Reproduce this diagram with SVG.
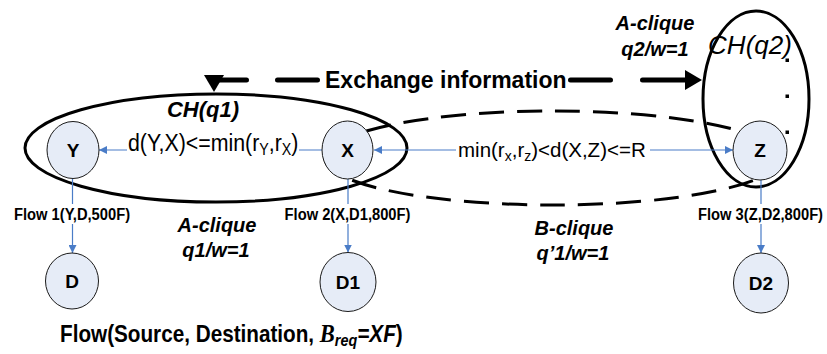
<svg xmlns="http://www.w3.org/2000/svg" width="827" height="354" viewBox="0 0 827 354">
  <style>
    text { font-family: "Liberation Sans", Arial, sans-serif; fill: #000; }
    .node ellipse { fill: #e6ecf7; stroke: #1a1a1a; stroke-width: 1; }
    .node text { font-size: 19px; font-weight: bold; text-anchor: middle; }
    .clique { fill: none; stroke: #000; stroke-width: 3; }
    .bclique { fill: none; stroke: #000; stroke-width: 3; stroke-dasharray: 25 13; }
    .link { fill: none; stroke: #4a7cc7; stroke-width: 1.2; }
    .exch { fill: none; stroke: #000; stroke-width: 5; stroke-linecap: round; }
    .flow { font-size: 16px; font-weight: bold; text-anchor: middle; }
    .cl { font-size: 20px; font-weight: bold; font-style: italic; text-anchor: middle; }
    .dot { fill: #000; }
  </style>
  <defs>
    <marker id="blueArrow" markerUnits="userSpaceOnUse" viewBox="0 0 10 10" refX="10" refY="5" markerWidth="8" markerHeight="8" orient="auto-start-reverse">
      <path d="M0,0 L10,5 L0,10 z" fill="#4a7cc7"/>
    </marker>
    <marker id="bigArrow" markerUnits="userSpaceOnUse" viewBox="0 0 17 20" refX="9" refY="10" markerWidth="17" markerHeight="20" orient="auto-start-reverse">
      <path d="M0,0 L17,10 L0,20 z" fill="#000"/>
    </marker>
  </defs>

  <!-- clique outlines -->
  <g id="cliques">
    <ellipse id="clique-q1" class="clique" cx="216" cy="148" rx="191" ry="54"/>
    <ellipse id="clique-q1b" class="bclique" cx="553" cy="158" rx="228" ry="47"/>
    <ellipse id="clique-q2" class="clique" cx="756" cy="99" rx="53" ry="88"/>
    <rect class="dot" x="785.5" y="58.5" width="3.5" height="3.5"/>
    <rect class="dot" x="785.5" y="94.5" width="3.5" height="3.5"/>
    <rect class="dot" x="785.5" y="130.5" width="3.5" height="3.5"/>
  </g>

  <!-- connectors -->
  <g id="connectors">
    <path class="exch" d="M214,84 V80 H246.5 M277.5,80 H317.5 M570.5,80 H610.5 M642.5,80 H694" marker-start="url(#bigArrow)" marker-end="url(#bigArrow)"/>
    <path class="link" d="M322,150 H299 M127,150 H99" marker-end="url(#blueArrow)"/>
    <path class="link" d="M374,150 H456 M650,150 H733" marker-start="url(#blueArrow)" marker-end="url(#blueArrow)"/>
    <path class="link" d="M72.5,179 V204 M72.5,224 V253" marker-end="url(#blueArrow)"/>
    <path class="link" d="M348,179 V204 M348,224 V252.5" marker-end="url(#blueArrow)"/>
    <path class="link" d="M761,180 V204 M761,224 V253" marker-end="url(#blueArrow)"/>
  </g>

  <!-- connector labels -->
  <g id="labels">
    <text x="325" y="88" font-size="23" font-weight="bold">Exchange information</text>
    <text transform="translate(128,151) scale(0.89,1)" font-size="24">d(Y,X)&lt;=min(r<tspan font-size="16" dy="4">Y</tspan><tspan dy="-4">,r</tspan><tspan font-size="16" dy="4">X</tspan><tspan dy="-4">)</tspan></text>
    <text x="458" y="157" font-size="20.5">min(r<tspan font-size="14" dy="4">x</tspan><tspan dy="-4">,r</tspan><tspan font-size="14" dy="4">z</tspan><tspan dy="-4">)&lt;d(X,Z)&lt;=R</tspan></text>
    <text class="flow" transform="translate(72,220) scale(0.92,1)">Flow 1(Y,D,500F)</text>
    <text class="flow" transform="translate(347.5,220) scale(0.92,1)">Flow 2(X,D1,800F)</text>
    <text class="flow" transform="translate(760.5,220) scale(0.92,1)">Flow 3(Z,D2,800F)</text>
    <text x="203" y="117" font-size="22" font-weight="bold" font-style="italic" text-anchor="middle">CH(q1)</text>
    <text x="750" y="54" font-size="26" font-style="italic" text-anchor="middle">CH(q2)</text>
    <text class="cl" x="217" y="232">A-clique</text>
    <text class="cl" x="216" y="257">q1/w=1</text>
    <text class="cl" x="574" y="235">B-clique</text>
    <text class="cl" x="573" y="260">q’1/w=1</text>
    <text class="cl" x="655" y="30">A-clique</text>
    <text class="cl" x="655" y="56">q2/w=1</text>
    <text transform="translate(60,342) scale(0.9,1)" font-size="23" font-weight="bold">Flow(Source, Destination, <tspan font-family="Liberation Serif" font-style="italic" font-size="25">B</tspan><tspan font-style="italic" font-size="16" dy="4">req</tspan><tspan font-style="italic" dy="-4">=XF</tspan>)</text>
  </g>

  <!-- nodes -->
  <g id="node-Y" class="node"><ellipse cx="73" cy="150" rx="26" ry="28.5"/><text x="73" y="157">Y</text></g>
  <g id="node-X" class="node"><ellipse cx="347.5" cy="150" rx="25.5" ry="29"/><text x="347.5" y="157">X</text></g>
  <g id="node-Z" class="node"><ellipse cx="760" cy="150.5" rx="27" ry="29.5"/><text x="760" y="157">Z</text></g>
  <g id="node-D" class="node"><ellipse cx="72" cy="281" rx="26.5" ry="28"/><text x="72" y="288">D</text></g>
  <g id="node-D1" class="node"><ellipse cx="348" cy="282" rx="28" ry="29.5"/><text x="348" y="289">D1</text></g>
  <g id="node-D2" class="node"><ellipse cx="761" cy="283" rx="27.5" ry="30"/><text x="761" y="290">D2</text></g>
</svg>
